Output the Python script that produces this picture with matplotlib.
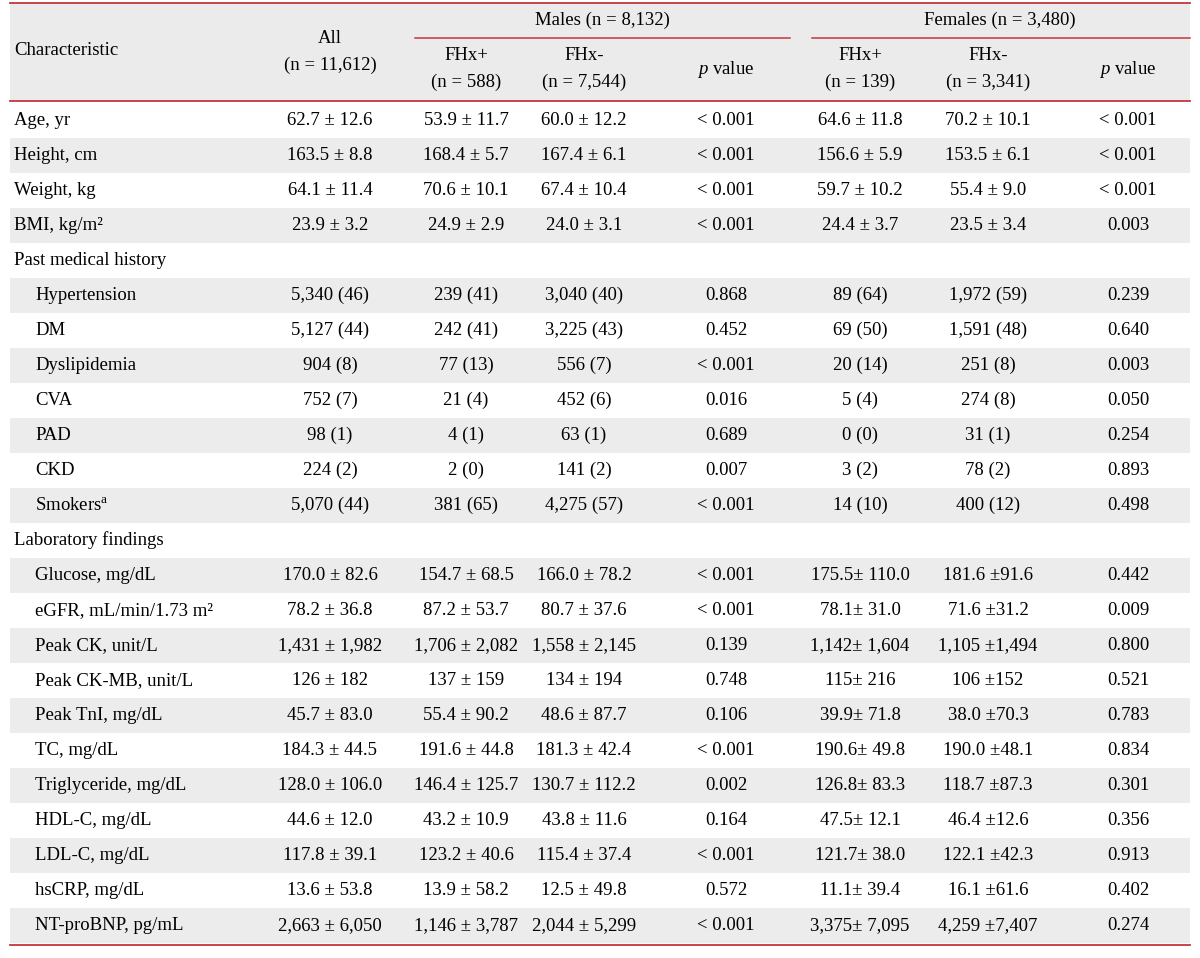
"""Baseline characteristics table"""
import matplotlib
matplotlib.use("Agg")
import matplotlib.pyplot as plt

plt.rcParams["font.family"] = ["Liberation Serif", "DejaVu Serif"]
plt.rcParams["mathtext.fontset"] = "custom"
plt.rcParams["mathtext.rm"] = "Liberation Serif"
plt.rcParams["mathtext.it"] = "Liberation Serif:italic"

RED = "#c4363f"
SHADE = "#ececec"

# row labels; indent=1 marks sub items, empty values mark section rows
labels = ["Age, yr", "Height, cm", "Weight, kg", "BMI, kg/m\u00b2",
          "Past medical history",
          "Hypertension", "DM", "Dyslipidemia", "CVA", "PAD", "CKD",
          "Smokers$^{\\mathrm{a}}$",
          "Laboratory findings",
          "Glucose, mg/dL", "eGFR, mL/min/1.73 m\u00b2", "Peak CK, unit/L",
          "Peak CK-MB, unit/L", "Peak TnI, mg/dL", "TC, mg/dL",
          "Triglyceride, mg/dL", "HDL-C, mg/dL", "LDL-C, mg/dL",
          "hsCRP, mg/dL", "NT-proBNP, pg/mL"]
indent = [0, 0, 0, 0, 0, 1, 1, 1, 1, 1, 1, 1, 0,
          1, 1, 1, 1, 1, 1, 1, 1, 1, 1, 1]

all_pts = ["62.7 ± 12.6", "163.5 ± 8.8", "64.1 ± 11.4", "23.9 ± 3.2", "",
           "5,340 (46)", "5,127 (44)", "904 (8)", "752 (7)", "98 (1)",
           "224 (2)", "5,070 (44)", "",
           "170.0 ± 82.6", "78.2 ± 36.8", "1,431 ± 1,982", "126 ± 182",
           "45.7 ± 83.0", "184.3 ± 44.5", "128.0 ± 106.0", "44.6 ± 12.0",
           "117.8 ± 39.1", "13.6 ± 53.8", "2,663 ± 6,050"]
male_pos = ["53.9 ± 11.7", "168.4 ± 5.7", "70.6 ± 10.1", "24.9 ± 2.9", "",
            "239 (41)", "242 (41)", "77 (13)", "21 (4)", "4 (1)", "2 (0)",
            "381 (65)", "",
            "154.7 ± 68.5", "87.2 ± 53.7", "1,706 ± 2,082", "137 ± 159",
            "55.4 ± 90.2", "191.6 ± 44.8", "146.4 ± 125.7", "43.2 ± 10.9",
            "123.2 ± 40.6", "13.9 ± 58.2", "1,146 ± 3,787"]
male_neg = ["60.0 ± 12.2", "167.4 ± 6.1", "67.4 ± 10.4", "24.0 ± 3.1", "",
            "3,040 (40)", "3,225 (43)", "556 (7)", "452 (6)", "63 (1)",
            "141 (2)", "4,275 (57)", "",
            "166.0 ± 78.2", "80.7 ± 37.6", "1,558 ± 2,145", "134 ± 194",
            "48.6 ± 87.7", "181.3 ± 42.4", "130.7 ± 112.2", "43.8 ± 11.6",
            "115.4 ± 37.4", "12.5 ± 49.8", "2,044 ± 5,299"]
male_p = ["< 0.001", "< 0.001", "< 0.001", "< 0.001", "",
          "0.868", "0.452", "< 0.001", "0.016", "0.689", "0.007", "< 0.001", "",
          "< 0.001", "< 0.001", "0.139", "0.748", "0.106", "< 0.001", "0.002",
          "0.164", "< 0.001", "0.572", "< 0.001"]
fem_pos = ["64.6 ± 11.8", "156.6 ± 5.9", "59.7 ± 10.2", "24.4 ± 3.7", "",
           "89 (64)", "69 (50)", "20 (14)", "5 (4)", "0 (0)", "3 (2)",
           "14 (10)", "",
           "175.5± 110.0", "78.1± 31.0", "1,142± 1,604", "115± 216",
           "39.9± 71.8", "190.6± 49.8", "126.8± 83.3", "47.5± 12.1",
           "121.7± 38.0", "11.1± 39.4", "3,375± 7,095"]
fem_neg = ["70.2 ± 10.1", "153.5 ± 6.1", "55.4 ± 9.0", "23.5 ± 3.4", "",
           "1,972 (59)", "1,591 (48)", "251 (8)", "274 (8)", "31 (1)",
           "78 (2)", "400 (12)", "",
           "181.6 ±91.6", "71.6 ±31.2", "1,105 ±1,494", "106 ±152",
           "38.0 ±70.3", "190.0 ±48.1", "118.7 ±87.3", "46.4 ±12.6",
           "122.1 ±42.3", "16.1 ±61.6", "4,259 ±7,407"]
fem_p = ["< 0.001", "< 0.001", "< 0.001", "0.003", "",
         "0.239", "0.640", "0.003", "0.050", "0.254", "0.893", "0.498", "",
         "0.442", "0.009", "0.800", "0.521", "0.783", "0.834", "0.301",
         "0.356", "0.913", "0.402", "0.274"]

columns = [all_pts, male_pos, male_neg, male_p, fem_pos, fem_neg, fem_p]
col_x = [330, 466, 584, 726, 860, 988, 1128]
sub_heads = ["All\n(n = 11,612)", "FHx+\n(n = 588)", "FHx-\n(n = 7,544)",
             "$p$ value", "FHx+\n(n = 139)", "FHx-\n(n = 3,341)", "$p$ value"]

fig = plt.figure(figsize=(12, 9.58), dpi=100)
ax = fig.add_axes([0, 0, 1, 1])
ax.set_xlim(0, 1200)
ax.set_ylim(958, 0)
ax.axis("off")

left, right = 10, 1190
top, head_bot = 3, 101
row_h = 35.0
fs = 13.5

# header
ax.fill_between([left, right], top, head_bot, color="#ebebeb", lw=0)
ax.plot([left, right], [top, top], color=RED, lw=1.3)
ax.plot([left, right], [head_bot, head_bot], color=RED, lw=1.3)
ax.text(14, 50, "Characteristic", fontsize=fs, va="center", ha="left")
ax.text(602, 20, "Males (n = 8,132)", fontsize=fs, va="center", ha="center")
ax.text(1000, 20, "Females (n = 3,480)", fontsize=fs, va="center", ha="center")
ax.plot([415, 790], [38, 38], color=RED, lw=1.1)
ax.plot([812, right], [38, 38], color=RED, lw=1.1)
for i, (x, h) in enumerate(zip(col_x, sub_heads)):
    y = 52 if i == 0 else 69
    ax.text(x, y, h, fontsize=fs, va="center", ha="center", linespacing=1.75)

# body
y0 = head_bot + 2
for r, lab in enumerate(labels):
    yc = y0 + row_h * (r + 0.5)
    if r % 2 == 1:
        ax.fill_between([left, right], yc - row_h / 2, yc + row_h / 2,
                        color=SHADE, lw=0)
    ax.text(14 + 21 * indent[r], yc, lab, fontsize=fs, va="center",
            ha="left")
    for x, col in zip(col_x, columns):
        if col[r]:
            ax.text(x, yc, col[r], fontsize=fs, va="center", ha="center")

bottom = y0 + row_h * len(labels) + 2
ax.plot([left, right], [bottom, bottom], color=RED, lw=1.3)

fig.savefig("out.png", dpi=100)
